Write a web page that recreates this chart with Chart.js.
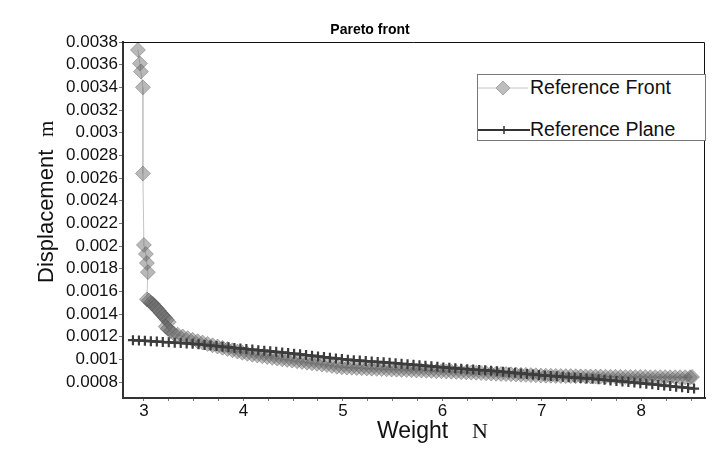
<!DOCTYPE html>
<html>
<head>
<meta charset="utf-8">
<script src="https://cdn.jsdelivr.net/npm/chart.js@4.4.1/dist/chart.umd.min.js"></script>
<style>
  html, body { margin: 0; padding: 0; background: #fff; }
  #wrap { position: relative; width: 714px; height: 458px; }
  #legend {
    position: absolute; left: 477px; top: 74px; width: 227px; height: 65px;
    border: 1px solid #777; background: #fff;
    font-family: 'Liberation Sans', Arial, sans-serif; font-size: 19.5px; color: #111;
  }
  #legend .row { position: absolute; left: 0; height: 20px; white-space: nowrap; }
  #legend svg { position: absolute; left: 0; top: 0; }
  #legend span { position: absolute; left: 52px; top: 0; line-height: 1; }
</style>
</head>
<body>
<div id="wrap">
  <canvas id="chart" width="714" height="458"></canvas>
  <div id="legend"></div>
</div>
<script>
// ---------- datos ----------
const chartTitle = 'Pareto front';
const xTitle = ['Weight', 'N'];
const yTitle = ['Displacement', 'm'];
const seriesNames = ['Reference Front', 'Reference Plane'];

const xTicks = [3, 4, 5, 6, 7, 8];
const yTicks = [0.0008, 0.001, 0.0012, 0.0014, 0.0016, 0.0018, 0.002, 0.0022, 0.0024,
  0.0026, 0.0028, 0.003, 0.0032, 0.0034, 0.0036, 0.0038];

// Reference Front (diamantes)
const frontWeight = [
  2.94, 2.96, 2.97, 2.99, 2.99, 3.00, 3.02, 3.03, 3.04, 3.03,
  3.05, 3.07, 3.09, 3.11, 3.13, 3.15, 3.17, 3.19, 3.21, 3.23, 3.25, 3.22, 3.24, 3.27, 3.30,
  3.34, 3.39, 3.44, 3.49, 3.54, 3.59, 3.64, 3.69, 3.74, 3.79, 3.84, 3.89, 3.94, 3.99,
  4.04, 4.09, 4.14, 4.19, 4.24, 4.29, 4.34, 4.39, 4.44, 4.49, 4.54, 4.59, 4.64, 4.69,
  4.74, 4.79, 4.84, 4.89, 4.94, 4.99,
  5.04, 5.09, 5.14, 5.19, 5.24, 5.29, 5.34, 5.39, 5.44, 5.49, 5.54, 5.59, 5.64, 5.69,
  5.74, 5.79, 5.84, 5.89, 5.94, 5.99,
  6.04, 6.09, 6.14, 6.19, 6.24, 6.29, 6.34, 6.39, 6.44, 6.49, 6.54, 6.59, 6.64, 6.69,
  6.74, 6.79, 6.84, 6.89, 6.94, 6.99,
  7.04, 7.09, 7.14, 7.19, 7.24, 7.29, 7.34, 7.39, 7.44, 7.49, 7.54, 7.59, 7.64, 7.69,
  7.74, 7.79, 7.84, 7.89, 7.94, 7.99,
  8.04, 8.09, 8.14, 8.19, 8.24, 8.29, 8.34, 8.39, 8.44, 8.49, 8.51
];
const frontDisp = [
  0.00373, 0.00361, 0.00354, 0.00340, 0.00264, 0.00201, 0.00193, 0.00185, 0.00177, 0.00153,
  0.00152, 0.00150, 0.00149, 0.00147, 0.00145, 0.00143, 0.00141, 0.00139, 0.00137, 0.00135,
  0.00133, 0.00129, 0.00127, 0.00125, 0.00123,
  0.001218, 0.001203, 0.001188, 0.001173, 0.001161, 0.001149, 0.001137, 0.001125, 0.001114,
  0.001103, 0.001092, 0.001081, 0.001070, 0.001059,
  0.001050, 0.001042, 0.001035, 0.001028, 0.001021, 0.001014, 0.001008, 0.001002, 0.000996,
  0.000990, 0.000984, 0.000978, 0.000972, 0.000966, 0.000961, 0.000955, 0.000950, 0.000942,
  0.000936, 0.000931,
  0.000929, 0.000927, 0.000925, 0.000923, 0.000921, 0.000919, 0.000917, 0.000915, 0.000913,
  0.000911, 0.000910, 0.000908, 0.000906, 0.000905, 0.000903, 0.000902, 0.000900, 0.000899,
  0.000897, 0.000896,
  0.000894, 0.000892, 0.000890, 0.000888, 0.000886, 0.000884, 0.000882, 0.000880, 0.000878,
  0.000876, 0.000874, 0.000872, 0.000871, 0.000869, 0.000867, 0.000865, 0.000864, 0.000862,
  0.000860, 0.000858,
  0.000857, 0.000856, 0.000855, 0.000854, 0.000853, 0.000853, 0.000852, 0.000851, 0.000850,
  0.000850, 0.000849, 0.000849, 0.000848, 0.000848, 0.000847, 0.000847, 0.000846, 0.000846,
  0.000845, 0.000845,
  0.000845, 0.000844, 0.000844, 0.000844, 0.000844, 0.000843, 0.000843, 0.000843, 0.000843,
  0.000843, 0.000845
];

// Reference Plane (cruces)
const planeWeight = [
  2.89, 2.95, 3.01, 3.07, 3.13, 3.19, 3.25, 3.31, 3.37, 3.43, 3.49, 3.55, 3.61, 3.67, 3.73,
  3.79, 3.85, 3.91, 3.97, 4.03, 4.09, 4.15, 4.21, 4.27, 4.33, 4.39, 4.45, 4.51, 4.57, 4.63,
  4.69, 4.75, 4.81, 4.87, 4.93, 4.99, 5.05, 5.11, 5.17, 5.23, 5.29, 5.35, 5.41, 5.47, 5.53,
  5.59, 5.65, 5.71, 5.77, 5.83, 5.89, 5.95, 6.01, 6.07, 6.13, 6.19, 6.25, 6.31, 6.37, 6.43,
  6.49, 6.55, 6.61, 6.67, 6.73, 6.79, 6.85, 6.91, 6.97, 7.03, 7.09, 7.15, 7.21, 7.27, 7.33,
  7.39, 7.45, 7.51, 7.57, 7.63, 7.69, 7.75, 7.81, 7.87, 7.93, 7.99, 8.05, 8.11, 8.17, 8.23,
  8.29, 8.35, 8.41, 8.47, 8.53
];
const planeDisp = [
  0.001170, 0.001167, 0.001164, 0.001161, 0.001158, 0.001154, 0.001151, 0.001148, 0.001145,
  0.001141, 0.001138, 0.001133, 0.001128, 0.001123, 0.001118, 0.001113, 0.001108, 0.001102,
  0.001097, 0.001092, 0.001087, 0.001082, 0.001077, 0.001072, 0.001067, 0.001062, 0.001057,
  0.001051, 0.001045, 0.001039, 0.001033, 0.001027, 0.001021, 0.001015, 0.001009, 0.001003,
  0.000998, 0.000994, 0.000990, 0.000986, 0.000982, 0.000978, 0.000975, 0.000971, 0.000967,
  0.000962, 0.000958, 0.000953, 0.000949, 0.000944, 0.000939, 0.000935, 0.000930, 0.000926,
  0.000922, 0.000918, 0.000914, 0.000911, 0.000907, 0.000904, 0.000900, 0.000895, 0.000891,
  0.000886, 0.000882, 0.000877, 0.000872, 0.000868, 0.000863, 0.000858, 0.000855, 0.000851,
  0.000847, 0.000844, 0.000840, 0.000836, 0.000833, 0.000829, 0.000825, 0.000820, 0.000815,
  0.000811, 0.000806, 0.000801, 0.000796, 0.000791, 0.000786, 0.000781, 0.000775, 0.000770,
  0.000765, 0.000759, 0.000754, 0.000749, 0.000743
];

const FONT = "'Liberation Sans', Arial, sans-serif";
const SERIF = "'Liberation Serif', 'Times New Roman', serif";
Chart.defaults.font.family = FONT;
Chart.defaults.color = '#111';

const toPoints = (xs, ys) => xs.map((x, i) => ({ x: x, y: ys[i] }));

// marco superior y derecho del área de dibujo
const framePlugin = {
  id: 'frame',
  afterDraw(chart) {
    const { ctx, chartArea: a } = chart;
    ctx.save();
    ctx.strokeStyle = '#111';
    ctx.lineWidth = 1;
    ctx.beginPath();
    ctx.moveTo(a.left, a.top + 0.5);
    ctx.lineTo(a.right - 0.5, a.top + 0.5);
    ctx.lineTo(a.right - 0.5, a.bottom);
    ctx.stroke();
    ctx.restore();
  }
};

// títulos de ejes (texto sans + unidad en serif)
const axisTitlePlugin = {
  id: 'axisTitles',
  afterDraw(chart) {
    const ctx = chart.ctx;
    ctx.save();
    ctx.fillStyle = '#111';
    ctx.textAlign = 'left';
    ctx.textBaseline = 'alphabetic';
    ctx.font = '23px ' + FONT;
    ctx.fillText(xTitle[0], 377, 438);
    ctx.font = '22px ' + SERIF;
    ctx.fillText(xTitle[1], 472, 438);
    ctx.translate(53, 283);
    ctx.rotate(-Math.PI / 2);
    ctx.font = '22px ' + FONT;
    ctx.fillText(yTitle[0], 0, 0);
    ctx.font = '21px ' + SERIF;
    ctx.fillText(yTitle[1], 146, 0);
    ctx.restore();
  }
};

new Chart(document.getElementById('chart'), {
  type: 'scatter',
  data: {
    datasets: [
      {
        label: seriesNames[0],
        data: toPoints(frontWeight, frontDisp),
        showLine: true,
        borderColor: '#c4c4c4',
        borderWidth: 1,
        pointStyle: 'rectRot',
        pointRadius: 7.5,
        pointBackgroundColor: 'rgba(100,100,100,0.45)',
        pointBorderColor: 'rgba(70,70,70,0.35)',
        pointBorderWidth: 1,
        order: 2
      },
      {
        label: seriesNames[1],
        data: toPoints(planeWeight, planeDisp),
        showLine: true,
        borderColor: '#3c3c3c',
        borderWidth: 2.5,
        pointStyle: 'cross',
        pointRadius: 5,
        pointBorderColor: '#3c3c3c',
        pointBorderWidth: 2.2,
        order: 1
      }
    ]
  },
  options: {
    responsive: false,
    animation: false,
    devicePixelRatio: 1,
    layout: { padding: { left: 35, right: 9, top: 0, bottom: 0 } },
    plugins: {
      legend: { display: false },
      tooltip: { enabled: false },
      title: {
        display: true,
        text: chartTitle,
        color: '#000',
        font: { size: 14, weight: 'bold', family: FONT },
        padding: { top: 22, bottom: 3.2 }
      }
    },
    scales: {
      x: {
        type: 'linear',
        min: 2.79,
        max: 8.64,
        afterFit: (s) => { s.height = 60; },
        border: { color: '#333', width: 2 },
        grid: { drawOnChartArea: false, drawTicks: true, tickLength: 3, color: '#777' },
        ticks: {
          stepSize: 0.25,
          includeBounds: false,
          autoSkip: false,
          maxRotation: 0,
          padding: 0,
          color: '#111',
          font: { size: 17 },
          callback: (v) => xTicks.find(t => Math.abs(t - v) < 1e-6) !== undefined ? String(Math.round(v)) : ''
        }
      },
      y: {
        type: 'linear',
        min: 0.00066,
        max: 0.0038,
        afterFit: (s) => { s.width = 88; },
        afterBuildTicks: (s) => { s.ticks = yTicks.map(v => ({ value: v })); },
        border: { color: '#333', width: 2 },
        grid: { drawOnChartArea: false, drawTicks: true, tickLength: 4, color: '#777' },
        ticks: {
          padding: 1,
          color: '#111',
          font: { size: 17 },
          callback: (v, i) => String(yTicks[i])
        }
      }
    }
  },
  plugins: [framePlugin, axisTitlePlugin]
});

// ---------- leyenda ----------
const legend = document.getElementById('legend');
const samples = [
  '<svg width="52" height="20"><line x1="0" y1="10" x2="50" y2="10" stroke="#c4c4c4" stroke-width="1"/>' +
    '<polygon points="25,3 32,10 25,17 18,10" fill="#bdbdbd" stroke="#a6a6a6" stroke-width="1"/></svg>',
  '<svg width="54" height="20"><line x1="0" y1="10" x2="52" y2="10" stroke="#333" stroke-width="2"/>' +
    '<line x1="26" y1="6" x2="26" y2="14" stroke="#333" stroke-width="1.5"/></svg>'
];
const rowTops = [3, 45];
seriesNames.forEach((name, i) => {
  const row = document.createElement('div');
  row.className = 'row';
  row.style.top = rowTops[i] + 'px';
  row.innerHTML = samples[i] + '<span>' + name + '</span>';
  legend.appendChild(row);
});
</script>
</body>
</html>
